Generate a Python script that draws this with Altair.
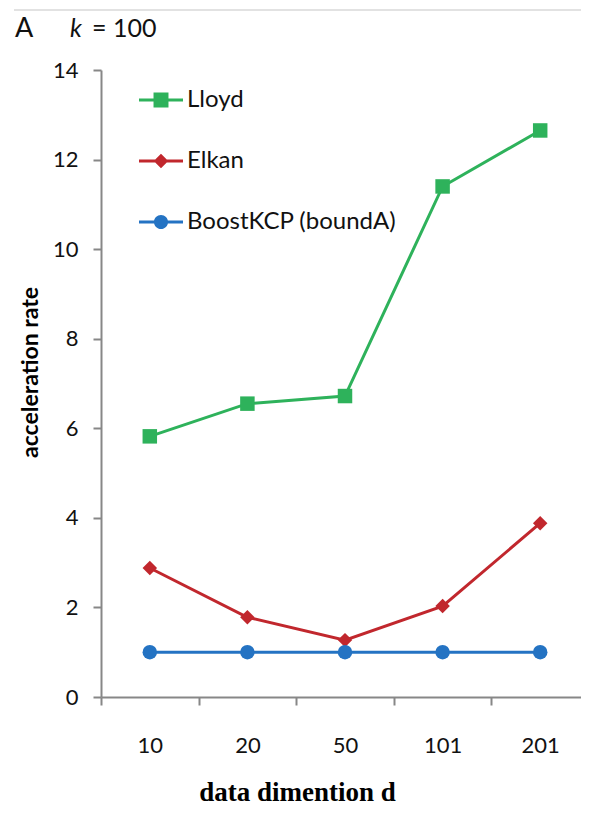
import altair as alt
import pandas as pd

dims = ["10", "20", "50", "101", "201"]
lloyd = [5.82, 6.55, 6.72, 11.40, 12.65]
elkan = [2.88, 1.78, 1.27, 2.03, 3.88]
boost = [1.0, 1.0, 1.0, 1.0, 1.0]
series = ["Lloyd", "Elkan", "BoostKCP (boundA)"]
colors = ["#2eb25b", "#c1272d", "#2473c3"]
y_ticks = [0, 2, 4, 6, 8, 10, 12, 14]

rows = []
for name, vals in zip(series, [lloyd, elkan, boost]):
    for d, v in zip(dims, vals):
        rows.append({"d": d, "rate": v, "method": name})
df = pd.DataFrame(rows)

AX = "#878787"
FONT = "Lato"

x_enc = alt.X(
    "d:N", sort=dims,
    scale=alt.Scale(type="band", paddingInner=0, paddingOuter=0),
    axis=alt.Axis(
        title="data dimention d", titleFont="Liberation Serif", titleFontSize=27,
        titleFontWeight="bold", titleColor="#000", titleX=196, titleY=103,
        titleBaseline="alphabetic", titleAlign="center", titleAnchor="start",
        labelFont=FONT, labelFontSize=22, labelColor="#111", labelAngle=0,
        labelPadding=30, labelBaseline="top",
        tickBand="extent", tickSize=8, tickWidth=2, tickColor=AX,
        domainColor=AX, domainWidth=2, grid=False,
    ),
)
y_enc = alt.Y(
    "rate:Q",
    scale=alt.Scale(domain=[0, 14], nice=False, zero=True),
    axis=alt.Axis(
        values=y_ticks, title="acceleration rate", titleFont=FONT,
        titleFontSize=23, titleFontWeight="bold", titleColor="#000",
        titleX=-71, titleY=302, titleAngle=-90, titleBaseline="middle",
        titleAlign="center", titleAnchor="start",
        labelFont=FONT, labelFontSize=22, labelColor="#111", labelPadding=15,
        tickSize=8, tickWidth=2, tickColor=AX, domainColor=AX, domainWidth=2,
        grid=False,
    ),
)
color_scale = alt.Scale(domain=series, range=colors)

base = alt.Chart(df).encode(x=x_enc, y=y_enc)

lines = base.mark_line(strokeWidth=3).encode(
    color=alt.Color("method:N", scale=color_scale, legend=None),
    detail="method:N",
)
points = base.mark_point(filled=True, opacity=1, size=210, strokeWidth=0).encode(
    color=alt.Color("method:N", scale=color_scale, legend=None),
    shape=alt.Shape("method:N", scale=alt.Scale(domain=series, range=["square", "diamond", "circle"]), legend=None),
)

leg_paths = [
    "M-1,-0.07H1V0.07H-1Z M-0.34,-0.34H0.34V0.34H-0.34Z",
    "M-1,-0.07H1V0.07H-1Z M0,-0.33L0.33,0L0,0.33L-0.33,0Z",
    "M-1,-0.07H1V0.07H-1Z M-0.32,0A0.32,0.32,0,1,1,0.32,0A0.32,0.32,0,1,1,-0.32,0Z",
]
legend = alt.Legend(
    title=None, orient="none", legendX=38, legendY=8, padding=0,
    labelFont=FONT, labelFontSize=24, labelColor="#111", labelOffset=4,
    labelLimit=400, symbolSize=1936, rowPadding=27, symbolStrokeWidth=0,
    direction="vertical",
)
legend_layer = alt.Chart(df).transform_filter("false").mark_point(
    filled=True, opacity=1, size=1936, strokeWidth=0
).encode(
    x=alt.X("d:N", sort=dims, scale=alt.Scale(type="band", paddingInner=0, paddingOuter=0)),
    y=alt.Y("rate:Q"),
    color=alt.Color("method:N", scale=color_scale, legend=legend),
    shape=alt.Shape("method:N", scale=alt.Scale(domain=series, range=leg_paths), legend=legend),
)

one = pd.DataFrame({"t": [0]})
top_rule = alt.Chart(one).mark_rule(color="#d9d9d9", strokeWidth=1.5).encode(
    x=alt.value(-87), x2=alt.value(488), y=alt.value(-60)
)
t_a = alt.Chart(one).mark_text(font=FONT, fontSize=27, align="left", baseline="alphabetic", color="#111").encode(
    x=alt.value(-86), y=alt.value(-33), text=alt.value("A")
)
t_k = alt.Chart(one).mark_text(font=FONT, fontSize=25, fontStyle="italic", align="left", baseline="alphabetic", color="#111").encode(
    x=alt.value(-31), y=alt.value(-33), text=alt.value("k")
)
t_eq = alt.Chart(one).mark_text(font=FONT, fontSize=25, align="left", baseline="alphabetic", color="#111").encode(
    x=alt.value(-9), y=alt.value(-33), text=alt.value("= 100")
)

chart = alt.layer(lines, points, legend_layer, top_rule, t_a, t_k, t_eq).resolve_scale(
    color="independent", shape="independent"
).properties(
    width=488, height=627,
    autosize=alt.AutoSizeParams(type="none"),
    padding={"left": 93, "top": 62, "right": -8, "bottom": 109},
).configure_view(strokeWidth=0)

chart.save("out.html", embed_options={"renderer": "svg", "actions": False})
